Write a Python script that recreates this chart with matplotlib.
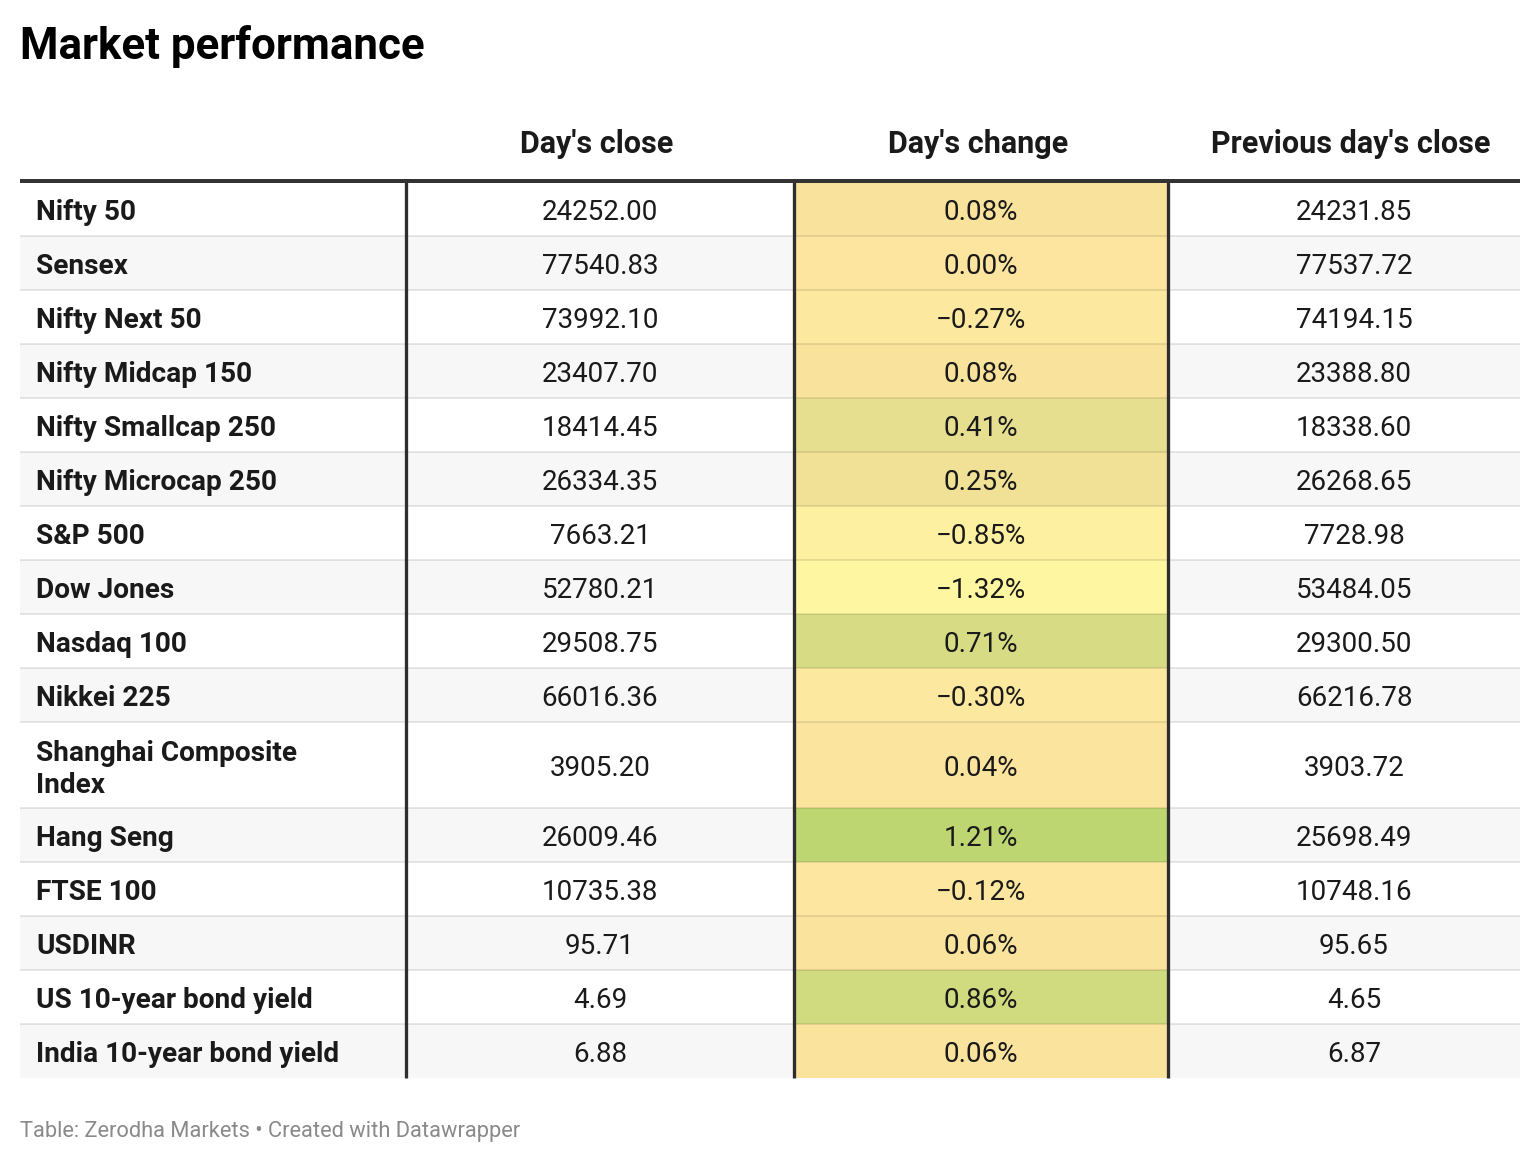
import matplotlib
matplotlib.use("Agg")
import matplotlib.pyplot as plt
from matplotlib.colors import LinearSegmentedColormap, TwoSlopeNorm
from matplotlib.patches import Rectangle

plt.rcParams['font.family'] = ['Roboto', 'DejaVu Sans']

title = "Market performance"
footer = "Table: Zerodha Markets \u2022 Created with Datawrapper"
headers = ["Day's close", "Day's change", "Previous day's close"]

names = ["Nifty 50", "Sensex", "Nifty Next 50", "Nifty Midcap 150", "Nifty Smallcap 250",
         "Nifty Microcap 250", "S&P 500", "Dow Jones", "Nasdaq 100", "Nikkei 225",
         "Shanghai Composite\nIndex", "Hang Seng", "FTSE 100", "USDINR",
         "US 10-year bond yield", "India 10-year bond yield"]
close = [24252.00, 77540.83, 73992.10, 23407.70, 18414.45, 26334.35, 7663.21, 52780.21,
         29508.75, 66016.36, 3905.20, 26009.46, 10735.38, 95.71, 4.69, 6.88]
change = [0.08, 0.00, -0.27, 0.08, 0.41, 0.25, -0.85, -1.32, 0.71, -0.30, 0.04, 1.21,
          -0.12, 0.06, 0.86, 0.06]
prev = [24231.85, 77537.72, 74194.15, 23388.80, 18338.60, 26268.65, 7728.98, 53484.05,
        29300.50, 66216.78, 3903.72, 25698.49, 10748.16, 95.65, 4.65, 6.87]

W, H = 1540, 1164
fig = plt.figure(figsize=(W / 100, H / 100), dpi=100)
ax = fig.add_axes([0, 0, 1, 1])
ax.set_xlim(0, W)
ax.set_ylim(H, 0)
ax.axis('off')

px = 0.72  # pixels -> points
TXT = '#1a1a1a'

cmap = LinearSegmentedColormap.from_list('chg', ['#fff6a2', '#fde49f', '#bdd672'])
norm = TwoSlopeNorm(vcenter=0.0, vmin=min(change), vmax=max(change))

x_left, x_right = 20, 1520
col_edges = [x_left, 406, 794, 1168, x_right]
col_centers = [600, 981, 1354]
header_y = 144
table_top = 182
base_h = 54
line_h = 32

def fmt_pct(v):
    s = f"{abs(v):.2f}%"
    return ("\u2212" + s) if v < 0 else s

# title
ax.text(20, 46, title, fontsize=31.6, fontweight='bold', color='#000000',
        ha='left', va='center')

# headers
for c, h in zip(col_centers, headers):
    ax.text(c - 3, header_y, h, fontsize=22, fontweight='bold', color=TXT,
            ha='center', va='center')

# rows
y = table_top
row_bounds = []
for i, name in enumerate(names):
    nlines = name.count('\n') + 1
    rh = base_h + (nlines - 1) * line_h
    bg = '#ffffff' if i % 2 == 0 else '#f7f7f7'
    ax.add_patch(Rectangle((x_left, y), x_right - x_left, rh, facecolor=bg,
                           edgecolor='none', zorder=1))
    ax.add_patch(Rectangle((col_edges[2], y), col_edges[3] - col_edges[2], rh,
                           facecolor=cmap(norm(change[i])), edgecolor='none', zorder=2))
    cy = y + rh / 2 + 3
    ax.text(36, cy + (nlines - 1) * 1.5, name, fontsize=20.2, fontweight='bold',
            color=TXT, ha='left', va='center', linespacing=1.24, zorder=5)
    ax.text(col_centers[0], cy, f"{close[i]:.2f}", fontsize=20, color=TXT,
            ha='center', va='center', zorder=5)
    ax.text(col_centers[1], cy, fmt_pct(change[i]), fontsize=20, color=TXT,
            ha='center', va='center', zorder=5)
    ax.text(col_centers[2], cy, f"{prev[i]:.2f}", fontsize=20, color=TXT,
            ha='center', va='center', zorder=5)
    row_bounds.append(y + rh)
    y += rh
table_bottom = y

# row separators
for yb in row_bounds[:-1]:
    ax.plot([x_left, x_right], [yb, yb], color='black', alpha=0.09,
            lw=2 * px, solid_capstyle='butt', zorder=3)

# vertical borders
for xe in col_edges[1:4]:
    ax.plot([xe, xe], [table_top, table_bottom], color='#2e2e2e', lw=3.3 * px,
            solid_capstyle='butt', zorder=4)

# header rule
ax.plot([x_left, x_right], [181, 181], color='#333333', lw=4 * px,
        solid_capstyle='butt', zorder=4)

# footer
ax.text(20, 1132, footer, fontsize=15.75, color='#8a8a8a', ha='left', va='center')

fig.savefig('out.png', dpi=100, facecolor='white')
